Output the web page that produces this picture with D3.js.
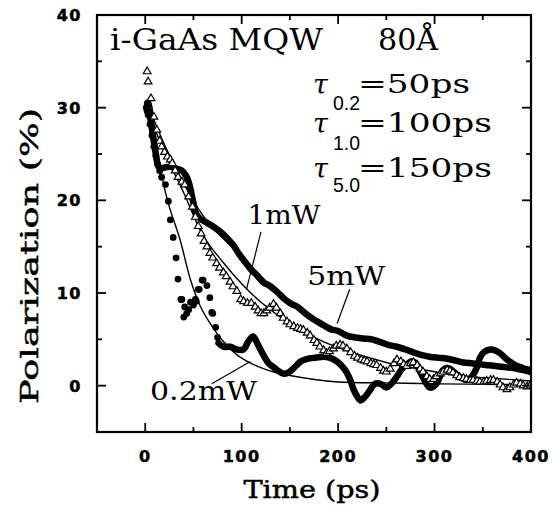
<!DOCTYPE html>
<html><head><meta charset="utf-8">
<script src="https://cdn.jsdelivr.net/npm/d3@7"></script>
<style>body{margin:0;background:#fff}svg{display:block}</style>
</head><body>
<svg id="c" width="559" height="506"></svg>
<script>
// ---- data (time in ps, polarization in %) ----
const xTicksMajor = [0, 100, 200, 300, 400];
const xTicksMinor = [-50, 50, 150, 250, 350];
const yTicksMajor = [0, 10, 20, 30, 40];
const yTicksMinor = [-5, 5, 15, 25, 35];

// 0.2 mW: scattered early points (filled circles)
const p02DotsT = [1,2,3,5,7,9,11,13,15,17,21,24,26,29,32,34,37,38,40,41,43,45,47,50,52,53,55,56,59,60,64,67,69,70,73,75];
const p02DotsP = [30,29.6,29.2,28.2,27,25.8,24.8,23.9,23.2,22.5,21.7,19.9,17.9,16,13.8,11.5,9.3,9.3,7.4,8.5,7.8,8.2,9.0,8.7,9.3,9.1,10.4,10.4,11.4,11.4,10.8,9.5,7.9,7.8,6.3,5.2];
// 0.2 mW: dense trace (thick)
const p02LineT = [76,81,88,95,102,107,112,117,122,128,133,138,143,148,152,157,161,168,175,182,188,194,199,204,209,213,216,220,223,227,233,238,244,250,256,261,266,271,276,280,285,290,295,299,303,306,309,313,316,321,327,333,338,344,347,351,358,363,368,373,378,384,389,394,400];
const p02LineP = [4.6,4.2,4.2,3.9,3.9,4.8,5.3,4.4,3.4,2.4,2.0,1.6,1.3,1.4,1.7,2.2,2.6,2.9,3.0,3.1,3.1,2.9,2.6,2.1,1.4,0.5,-0.4,-1.2,-1.6,-1.3,-0.5,0.2,0.2,-0.2,0.3,1.0,1.8,2.3,2.6,2.5,1.5,0.5,-0.2,-0.1,0.4,1.1,1.7,1.9,1.8,1.4,0.9,0.6,0.9,2.0,3.0,3.6,3.9,3.8,3.5,3.0,2.6,2.2,2.0,1.8,1.7];

// 1 mW: open triangles
const p1T = [2,3,6,9,12,15,17,20,23,26,28,31,34,38,41,45,49,52,55,58,61,64,67,70,74,77,81,84,88,91,95,99,102,106,110,114,117,120,123,126,129,133,136,140,143,147,150,154,158,161,164,168,171,175,178,181,185,188,191,195,198,202,205,209,213,217,220,224,227,230,234,237,240,244,247,250,254,258,261,265,268,271,275,278,282,285,288,292,295,299,302,306,309,313,316,319,323,326,330,333,337,340,344,347,351,354,358,361,365,368,371,375,378,382,385,389,392,396,399];
const p1P = [33.9,32.8,31.0,29.0,27.6,26.4,25.8,25.2,24.7,24.4,24.0,23.2,22.5,22.0,21.7,20.4,19.3,18.2,17.2,16.4,15.6,15.0,14.3,13.8,13.2,12.7,12.2,11.8,11.2,10.7,10.2,9.3,9.1,8.9,8.9,8.5,8.1,7.8,7.8,8.1,8.4,8.8,8.4,7.8,7.3,6.9,6.6,6.4,6.2,6.1,6.0,5.7,5.4,4.9,4.6,4.2,3.8,3.5,3.7,4.0,4.3,4.4,4.3,4.0,3.6,3.2,3.0,2.8,2.7,2.6,2.4,2.3,2.2,1.9,1.6,1.5,1.8,2.4,2.8,2.6,2.3,2.1,2.4,2.5,2.2,1.8,1.5,1.0,0.7,0.7,1.0,1.3,1.5,1.7,1.6,1.4,1.1,0.9,0.8,0.7,0.6,0.6,0.5,0.4,0.4,0.5,0.6,0.6,0.4,0.1,-0.2,-0.4,-0.2,0.1,0.3,0.2,0.0,-0.1,0.0];

// 5 mW: dense trace (thick)
const p5T = [2,5,8,11,14,18,23,28,33,38,42,45,47,50,53,57,62,70,78,85,91,98,104,110,116,122,130,137,145,152,158,166,174,182,192,200,209,218,226,235,244,252,261,270,278,287,296,305,313,322,330,340,347,356,365,373,382,391,399];
const p5P = [30.5,29,27,25,23.6,23.5,23.6,23.6,23.4,23.2,22.7,22,21.2,19.7,18.5,18.0,17.7,17.2,16.6,15.9,15.2,14.1,13.3,12.5,11.9,11.2,10.7,10.1,9.3,8.8,8.5,7.8,7.2,6.7,6.1,5.9,5.4,5.2,5.1,5.0,4.7,4.4,4.2,3.9,3.6,3.3,3.1,3.0,2.9,2.7,2.5,2.4,2.3,2.2,2.1,2.0,1.9,1.7,1.5];

// fitted decays (thin lines)
const fit02T = [3,6,10,18,25,36,47,57,65,80,98,126,150,200,250,300,350,400];
const fit02P = [31,30.5,27.3,22.2,19.3,15.8,11.4,8.6,7.1,4.9,3.1,1.7,1.1,0.4,0.3,0.2,0.15,0.1];
const fit1T = [5,20,40,60,80,100,120,150,175,200,250,300,330,360,400];
const fit1P = [29,25.2,20.8,16.2,13.4,11.0,9.0,6.7,5.2,4.1,2.5,1.5,1.0,0.8,0.5];
const fit5T = [2,20,40,55,70,100,130,160,200,250,300,350,400];
const fit5P = [30.5,26.0,21.8,19.1,17.0,14.0,10.8,8.4,6.0,4.4,3.1,2.3,1.5];

// text
const headerText = "i-GaAs MQW";
const headerText2 = "80Å";
const tauSubs = ["0.2", "1.0", "5.0"];
const tauVals = ["=50ps", "=100ps", "=150ps"];
const seriesLabels = ["1mW", "5mW", "0.2mW"];
const xTitle = "Time (ps)";
const yTitle = "Polarization (%)";

// ---- chart ----
const svg = d3.select("#c");
const L = 97, R = 531, T = 15, B = 432;
const x = d3.scaleLinear().domain([-50, 400]).range([L, R]);
const y = d3.scaleLinear().domain([-5, 40]).range([B, T]);
const zip = (a, b) => a.map((v, i) => [v, b[i]]);

svg.append("clipPath").attr("id", "clp").append("rect")
  .attr("x", L).attr("y", T).attr("width", R - L).attr("height", B - T);
const plot = svg.append("g").attr("clip-path", "url(#clp)");

const line = d3.line().x(d => x(d[0])).y(d => y(d[1])).curve(d3.curveCatmullRom.alpha(0.5));

// fits
[[fit02T, fit02P], [fit1T, fit1P], [fit5T, fit5P]].forEach(([t, p]) => {
  plot.append("path").datum(zip(t, p)).attr("d", line)
    .attr("fill", "none").attr("stroke", "#000").attr("stroke-width", 1.4);
});

// 5 mW thick trace
plot.append("path").datum(zip(p5T, p5P)).attr("d", line)
  .attr("fill", "none").attr("stroke", "#000").attr("stroke-width", 6.5)
  .attr("stroke-linejoin", "round").attr("stroke-linecap", "round");
// 0.2 mW thick trace
plot.append("path").datum(zip(p02LineT, p02LineP)).attr("d", line)
  .attr("fill", "none").attr("stroke", "#000").attr("stroke-width", 6.5)
  .attr("stroke-linejoin", "round").attr("stroke-linecap", "round");
// 0.2 mW dots
plot.selectAll("circle.d02").data(zip(p02DotsT, p02DotsP)).join("circle")
  .attr("class", "d02").attr("cx", d => x(d[0])).attr("cy", d => y(d[1]))
  .attr("r", 3.4).attr("fill", "#000");
// 1 mW triangles
const tri = d3.symbol().type(d3.symbolTriangle).size(26);
plot.selectAll("path.t1").data(zip(p1T, p1P)).join("path")
  .attr("class", "t1").attr("d", tri)
  .attr("transform", d => `translate(${x(d[0])},${y(d[1])})`)
  .attr("fill", "#fff").attr("stroke", "#000").attr("stroke-width", 1.2);

// ---- axes (ticks inward on all four sides) ----
const frame = svg.append("g");
frame.append("rect").attr("x", L).attr("y", T).attr("width", R - L).attr("height", B - T)
  .attr("fill", "none").attr("stroke", "#000").attr("stroke-width", 2.2);
const tk = (g, vals, len, horiz) => {
  vals.forEach(v => {
    if (horiz) {
      g.append("line").attr("x1", x(v)).attr("x2", x(v)).attr("y1", B).attr("y2", B - len);
      g.append("line").attr("x1", x(v)).attr("x2", x(v)).attr("y1", T).attr("y2", T + len);
    } else {
      g.append("line").attr("y1", y(v)).attr("y2", y(v)).attr("x1", L).attr("x2", L + len);
      g.append("line").attr("y1", y(v)).attr("y2", y(v)).attr("x1", R).attr("x2", R - len);
    }
  });
};
const tg = frame.append("g").attr("stroke", "#000").attr("stroke-width", 1.8);
tk(tg, xTicksMajor, 9, true); tk(tg, xTicksMinor.filter(v => v > -50), 5, true);
tk(tg, yTicksMajor, 9, false); tk(tg, yTicksMinor.filter(v => v > -5), 5, false);

const tickFont = g => g.attr("font-family", "DejaVu Sans").attr("font-weight", "bold")
  .attr("font-size", 16).attr("letter-spacing", 1.5).attr("fill", "#000")
  .attr("stroke", "#000").attr("stroke-width", 0.5);
frame.append("g").call(tickFont).selectAll("text").data(xTicksMajor).join("text")
  .attr("x", d => x(d)).attr("y", 462).attr("text-anchor", "middle").text(d => d);
frame.append("g").call(tickFont).selectAll("text").data(yTicksMajor).join("text")
  .attr("x", 82).attr("y", d => y(d) + 6).attr("text-anchor", "end").text(d => d);

svg.append("text").attr("x", 312).attr("y", 498).attr("text-anchor", "middle")
  .attr("font-family", "DejaVu Serif").attr("font-size", 24)
  .attr("textLength", 137).attr("lengthAdjust", "spacingAndGlyphs").attr("stroke", "#000").attr("stroke-width", 0.5)
  .text(xTitle);
svg.append("text").attr("transform", "translate(38,256) rotate(-90)").attr("text-anchor", "middle")
  .attr("font-family", "DejaVu Serif").attr("font-size", 25)
  .attr("textLength", 296).attr("lengthAdjust", "spacingAndGlyphs").attr("stroke", "#000").attr("stroke-width", 0.5)
  .text(yTitle);

// ---- annotations ----
const serif = s => s.attr("font-family", "DejaVu Serif").attr("fill", "#000").attr("lengthAdjust", "spacingAndGlyphs");
svg.append("text").call(serif).attr("x", 110).attr("y", 50).attr("font-size", 30)
  .attr("textLength", 213).text(headerText);
svg.append("text").call(serif).attr("x", 378).attr("y", 50).attr("font-size", 30)
  .attr("textLength", 60).text(headerText2);

const tauBase = [93, 132, 177];
const subBase = [110, 150, 192];
tauVals.forEach((v, i) => {
  svg.append("text").call(serif).attr("x", 313).attr("y", tauBase[i] + 1).attr("font-size", 27)
    .attr("font-style", "italic").text("τ");
  svg.append("text").attr("x", 333).attr("y", subBase[i]).attr("font-family", "Liberation Sans")
    .attr("font-size", 20).attr("textLength", 27).attr("lengthAdjust", "spacingAndGlyphs").text(tauSubs[i]);
  svg.append("text").call(serif).attr("x", 358).attr("y", tauBase[i]).attr("font-size", 26)
    .attr("textLength", i === 0 ? 112 : 134).text(v);
});

// series labels with leader lines (data coordinates)
const labelPos = [[106, 17.4, 73], [168, 10.9, 78], [5, -1.5, 107]];
const leaders = [[[120, 16.6], [105, 10.4]], [[212, 10.4], [199, 6.7]], [[69, 0.2], [109, 2.6]]];
seriesLabels.forEach((s, i) => {
  svg.append("text").call(serif).attr("x", x(labelPos[i][0])).attr("y", y(labelPos[i][1]))
    .attr("font-size", 26).attr("textLength", labelPos[i][2]).text(s);
  svg.append("line").attr("x1", x(leaders[i][0][0])).attr("y1", y(leaders[i][0][1]))
    .attr("x2", x(leaders[i][1][0])).attr("y2", y(leaders[i][1][1]))
    .attr("stroke", "#000").attr("stroke-width", 1.2);
});
</script>
</body></html>
